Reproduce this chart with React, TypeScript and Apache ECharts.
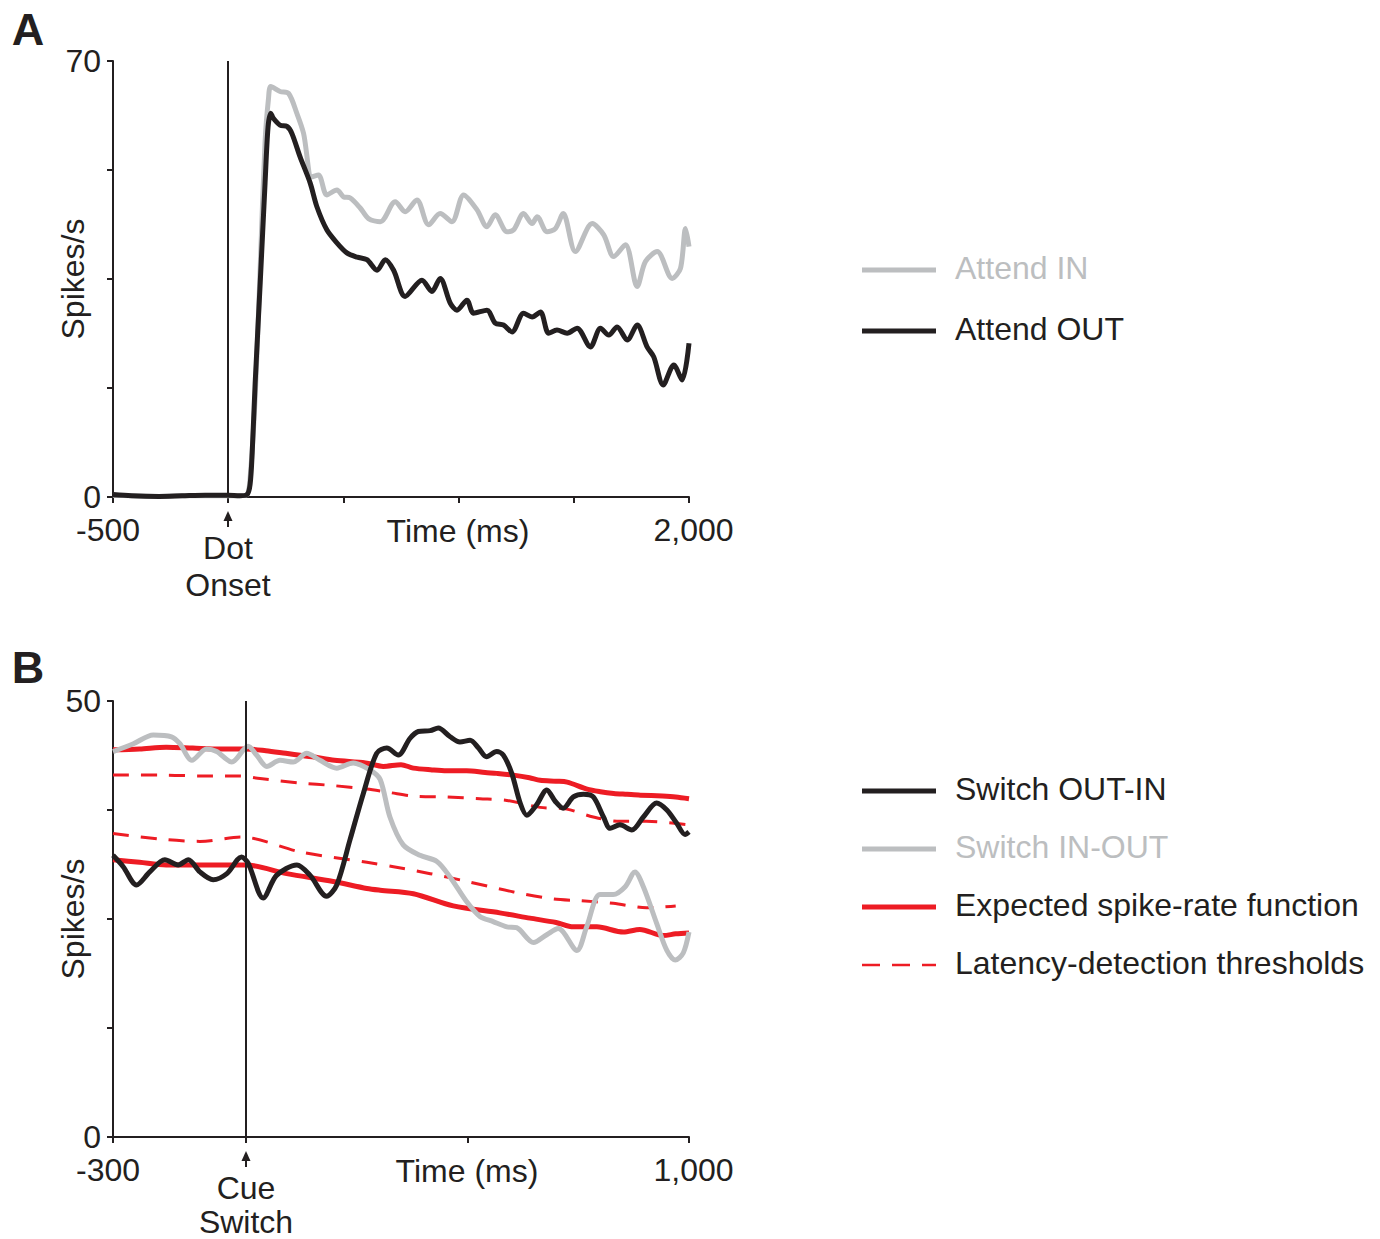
import React, { useEffect, useRef } from 'react';
import * as echarts from 'echarts';

const FONT = '"Liberation Sans", Arial, Helvetica, sans-serif';
const INK = '#231f20';
const GRAY = '#bcbec0';
const RED = '#ed1c24';
const FS = 32;
const LH = 30;

// ---------- Panel A: attention to dot onset ----------
const attendInTime = [-500, -420, -300, -200, -100, 0, 50, 82, 95, 117, 139, 160, 175, 185, 225, 262, 298, 327, 363, 392, 428, 472, 500, 530, 573, 609, 660, 725, 768, 819, 870, 920, 971, 1022, 1080, 1123, 1159, 1210, 1239, 1282, 1319, 1341, 1384, 1420, 1454, 1507, 1580, 1630, 1673, 1724, 1775, 1811, 1862, 1927, 1963, 1985, 2000];
const attendInRate = [0.3, 0.2, 0.1, 0.2, 0.2, 0.2, 0.2, 0.4, 3, 16, 37, 57, 64, 65.9, 65.1, 64.8, 61.6, 58.4, 51.4, 51.7, 48.5, 49.3, 48.2, 48.0, 46.4, 44.7, 44.2, 47.4, 45.8, 47.7, 43.7, 45.5, 44.2, 48.5, 46.1, 43.4, 45.3, 42.6, 42.9, 45.5, 43.9, 45.0, 42.6, 43.1, 45.5, 39.4, 43.9, 42.1, 38.6, 40.5, 33.8, 37.8, 39.4, 35.1, 36.7, 43.1, 40.2];

const attendOutTime = [-500, -420, -300, -200, -100, 0, 50, 82, 95, 104, 117, 139, 160, 173, 185, 196, 225, 255, 276, 312, 356, 385, 428, 472, 515, 560, 602, 646, 682, 718, 768, 841, 884, 920, 964, 993, 1036, 1065, 1123, 1159, 1195, 1232, 1282, 1319, 1355, 1391, 1427, 1471, 1514, 1572, 1616, 1652, 1688, 1732, 1775, 1818, 1847, 1888, 1934, 1970, 2000];
const attendOutRate = [0.4, 0.2, 0.1, 0.2, 0.3, 0.3, 0.2, 0.4, 2, 7, 18.3, 34.4, 50.4, 59.4, 61.6, 60.8, 59.7, 59.5, 58.4, 54.6, 50.4, 46.6, 42.9, 40.8, 39.2, 38.5, 38.1, 36.4, 38.1, 36.4, 32.2, 34.8, 33.0, 35.1, 31.1, 30.0, 31.6, 29.5, 30.0, 27.9, 27.6, 26.5, 29.5, 28.9, 29.7, 26.3, 26.8, 26.3, 27.1, 24.1, 27.1, 26.0, 27.3, 25.2, 27.6, 24.1, 22.5, 18.0, 21.2, 18.8, 24.7];

const panelAXLabels = [-500, 2000];
const panelAXTicks = [-500, 0, 500, 1000, 1500, 2000];
const panelAYLabels = [0, 70];

// ---------- Panel B: cue switch ----------
const switchOutInTime = [-300, -277, -247, -217, -183, -153, -130, -104, -74, -43, -10, 5, 39, 69, 115, 145, 182, 205, 235, 265, 295, 318, 344, 370, 389, 416, 434, 461, 483, 506, 525, 543, 566, 581, 600, 619, 634, 656, 679, 698, 716, 739, 762, 784, 807, 822, 844, 871, 897, 927, 950, 972, 991, 1000];
const switchOutInRate = [32.3, 31.0, 28.9, 30.4, 31.8, 31.2, 31.8, 30.4, 29.5, 30.2, 32.1, 31.4, 27.4, 30.0, 31.2, 30.0, 27.6, 28.9, 34.1, 39.4, 44.0, 44.6, 43.8, 45.7, 46.5, 46.6, 46.9, 45.9, 45.3, 45.5, 44.6, 43.6, 44.2, 43.8, 41.7, 38.3, 36.9, 38.1, 39.8, 38.5, 37.7, 39.0, 39.3, 39.0, 36.7, 35.4, 35.8, 35.2, 36.7, 38.3, 37.5, 36.0, 34.7, 35.0];

const switchInOutTime = [-300, -254, -209, -168, -149, -122, -89, -66, -32, 5, 24, 47, 77, 107, 137, 167, 205, 242, 280, 303, 325, 355, 393, 431, 461, 498, 528, 558, 589, 611, 649, 679, 705, 747, 769, 799, 829, 856, 878, 897, 927, 950, 969, 987, 1000];
const switchInOutRate = [44.2, 45.1, 46.1, 45.9, 45.1, 43.2, 44.5, 44.2, 43.0, 44.8, 43.8, 42.5, 43.2, 43.0, 44.0, 43.2, 42.3, 42.9, 42.1, 41.0, 36.7, 33.5, 32.3, 31.6, 29.8, 27.0, 25.3, 24.7, 24.1, 24.0, 22.3, 23.2, 23.9, 21.4, 24.1, 27.8, 27.8, 28.7, 30.4, 28.7, 24.5, 21.4, 20.3, 21.1, 23.5];

const expectedInTime = [-300, -240, -180, -120, -60, 0, 45, 90, 150, 200, 270, 310, 350, 378, 420, 453, 498, 540, 566, 604, 640, 664, 700, 725, 770, 800, 830, 860, 890, 940, 970, 1000];
const expectedInRate = [44.4, 44.5, 44.7, 44.6, 44.5, 44.5, 44.3, 44.0, 43.6, 43.2, 42.9, 42.5, 42.7, 42.3, 42.1, 42.0, 42.0, 41.8, 41.7, 41.5, 41.2, 40.9, 40.8, 40.7, 39.9, 39.6, 39.4, 39.3, 39.2, 39.1, 39.0, 38.8];

const thresholdInTime = [-300, -180, -100, -13, 32, 122, 197, 273, 325, 378, 453, 528, 589, 664, 724, 784, 844, 904, 1000];
const thresholdInRate = [41.5, 41.5, 41.4, 41.4, 41.1, 40.6, 40.3, 39.9, 39.5, 39.1, 39.0, 38.8, 38.6, 37.8, 37.6, 36.7, 36.2, 36.2, 35.8];

const expectedOutTime = [-300, -240, -180, -100, 0, 92, 197, 273, 303, 378, 468, 573, 641, 700, 739, 792, 852, 889, 942, 970, 1000];
const expectedOutRate = [31.8, 31.5, 31.2, 31.2, 31.2, 30.2, 29.3, 28.5, 28.3, 27.9, 26.5, 25.7, 25.1, 24.6, 24.1, 24.1, 23.5, 23.8, 23.1, 23.3, 23.4];

const thresholdOutTime = [-300, -180, -104, -10, 122, 273, 333, 416, 491, 604, 694, 754, 829, 904, 970];
const thresholdOutRate = [34.8, 34.1, 33.9, 34.4, 32.7, 31.5, 31.0, 30.2, 29.4, 28.1, 27.3, 27.1, 26.8, 26.3, 26.5];

const panelBXLabels = [-300, 1000];
const panelBXTicks = [-300, 0, 500, 1000];
const panelBYLabels = [0, 50];

const legendA = [
  { name: 'Attend IN', color: GRAY, text: GRAY, dashed: false },
  { name: 'Attend OUT', color: INK, text: INK, dashed: false },
];
const legendB = [
  { name: 'Switch OUT-IN', color: INK, text: INK, dashed: false },
  { name: 'Switch IN-OUT', color: GRAY, text: GRAY, dashed: false },
  { name: 'Expected spike-rate function', color: RED, text: INK, dashed: false },
  { name: 'Latency-detection thresholds', color: RED, text: INK, dashed: true },
];

const zip = (t: number[], v: number[]) => t.map((x, i) => [x, v[i]]);
const fmt = (v: number) => (Math.abs(v) >= 1000 ? v.toLocaleString('en-US') : String(v));

function xAxisCfg(gridIndex: number, min: number, max: number, ticks: number[], labels: number[], namePad: number) {
  return {
    type: 'value',
    gridIndex,
    min,
    max,
    name: 'Time (ms)',
    nameLocation: 'middle',
    nameGap: 19,
    nameMoveOverlap: false,
    nameTextStyle: { color: INK, fontSize: FS, fontFamily: FONT, lineHeight: LH, padding: [0, 0, 0, namePad] },
    axisLine: { show: true, onZero: false, lineStyle: { color: INK, width: 2 } },
    axisTick: { show: true, length: 6, customValues: ticks, lineStyle: { color: INK, width: 2 } },
    axisLabel: {
      show: true,
      customValues: labels,
      color: INK,
      fontSize: FS,
      fontFamily: FONT,
      lineHeight: LH,
      margin: 18,
      formatter: (v: number) => (v === min ? `{l|${fmt(v)}}` : `{r|${fmt(v)}}`),
      rich: {
        l: { fontSize: FS, fontFamily: FONT, color: INK, lineHeight: LH, padding: [0, 10, 0, 0] },
        r: { fontSize: FS, fontFamily: FONT, color: INK, lineHeight: LH, padding: [0, 0, 0, 9] },
      },
    },
    splitLine: { show: false },
  };
}

function yAxisCfg(gridIndex: number, max: number, interval: number, labels: number[]) {
  return {
    type: 'value',
    gridIndex,
    min: 0,
    max,
    interval,
    name: 'Spikes/s',
    nameLocation: 'middle',
    nameRotate: 90,
    nameGap: 24,
    nameMoveOverlap: false,
    nameTextStyle: { color: INK, fontSize: FS, fontFamily: FONT },
    axisLine: { show: true, onZero: false, lineStyle: { color: INK, width: 2 } },
    axisTick: { show: true, length: 6, lineStyle: { color: INK, width: 2 } },
    axisLabel: { show: true, customValues: labels, color: INK, fontSize: FS, fontFamily: FONT, lineHeight: LH, margin: 12 },
    splitLine: { show: false },
  };
}

function lineSeries(name: string, data: number[][], color: string, width: number, axis: number, opts: any = {}) {
  return {
    type: 'line',
    name,
    data,
    xAxisIndex: axis,
    yAxisIndex: axis,
    showSymbol: false,
    symbol: 'none',
    smooth: 0.3,
    lineStyle: { color, width, cap: 'butt', join: 'round', type: opts.dashed ? [16, 12] : 'solid' },
    z: opts.z ?? 3,
    markLine: opts.markLine,
    silent: true,
  };
}

function zeroLine() {
  return {
    silent: true,
    symbol: ['none', 'none'],
    label: { show: false },
    lineStyle: { color: INK, width: 2, type: 'solid' },
    data: [{ xAxis: 0 }],
  };
}

function legendGraphics(items: { name: string; color: string; text: string; dashed: boolean }[], ys: number[]) {
  const out: any[] = [];
  items.forEach((it, i) => {
    out.push({
      type: 'line',
      shape: { x1: 862, y1: ys[i] + 2, x2: 936, y2: ys[i] + 2 },
      style: { stroke: it.color, lineWidth: it.dashed ? 2.5 : 5, lineDash: it.dashed ? [18, 12] : null },
    });
    out.push({
      type: 'text',
      x: 955,
      y: ys[i],
      style: { text: it.name, fill: it.text, font: `${FS}px ${FONT}`, textAlign: 'left', textVerticalAlign: 'middle' },
    });
  });
  return out;
}

function arrow(x: number, yTip: number) {
  return [
    { type: 'polygon', shape: { points: [[x, yTip], [x - 4.5, yTip + 10], [x + 4.5, yTip + 10]] }, style: { fill: INK } },
    { type: 'line', shape: { x1: x, y1: yTip + 9, x2: x, y2: yTip + 16 }, style: { stroke: INK, lineWidth: 2 } },
  ];
}

function txt(text: string, x: number, y: number, extra: any = {}) {
  return {
    type: 'text',
    x,
    y,
    style: { text, fill: INK, font: `${FS}px ${FONT}`, lineHeight: LH, textAlign: 'center', textVerticalAlign: 'middle', ...extra },
  };
}

export default function App() {
  const ref = useRef<HTMLDivElement>(null);
  useEffect(() => {
    if (!ref.current) return;
    const chart = echarts.init(ref.current, null, { renderer: 'svg' });
    chart.setOption({
      animation: false,
      backgroundColor: '#ffffff',
      grid: [
        { left: 113, top: 61, width: 576, height: 436 },
        { left: 113, top: 701, width: 576, height: 436 },
      ],
      xAxis: [
        xAxisCfg(0, -500, 2000, panelAXTicks, panelAXLabels, 114),
        xAxisCfg(1, -300, 1000, panelBXTicks, panelBXLabels, 132),
      ],
      yAxis: [yAxisCfg(0, 70, 17.5, panelAYLabels), yAxisCfg(1, 50, 12.5, panelBYLabels)],
      series: [
        lineSeries('Attend IN', zip(attendInTime, attendInRate), GRAY, 5, 0, { z: 3, markLine: zeroLine() }),
        lineSeries('Attend OUT', zip(attendOutTime, attendOutRate), INK, 5, 0, { z: 4 }),
        lineSeries('Expected IN', zip(expectedInTime, expectedInRate), RED, 5, 1, { z: 2, markLine: zeroLine() }),
        lineSeries('Expected OUT', zip(expectedOutTime, expectedOutRate), RED, 5, 1, { z: 2 }),
        lineSeries('Threshold IN', zip(thresholdInTime, thresholdInRate), RED, 3, 1, { z: 2, dashed: true }),
        lineSeries('Threshold OUT', zip(thresholdOutTime, thresholdOutRate), RED, 3, 1, { z: 2, dashed: true }),
        lineSeries('Switch IN-OUT', zip(switchInOutTime, switchInOutRate), GRAY, 5, 1, { z: 3 }),
        lineSeries('Switch OUT-IN', zip(switchOutInTime, switchOutInRate), INK, 5, 1, { z: 4 }),
      ],
      graphic: [
        txt('A', 28, 29, { font: `bold 45px ${FONT}`, lineHeight: 46 }),
        txt('B', 28, 667, { font: `bold 45px ${FONT}`, lineHeight: 46 }),
        ...arrow(228, 511),
        txt('Dot', 228, 548),
        txt('Onset', 228, 585),
        ...arrow(246, 1151),
        txt('Cue', 246, 1188),
        txt('Switch', 246, 1222),
        ...legendGraphics(legendA, [268, 329]),
        ...legendGraphics(legendB, [789, 847, 905, 963]),
      ],
    });
    return () => chart.dispose();
  }, []);
  return (
    <div
      ref={ref}
      style={{ position: 'absolute', left: 0, top: 0, width: 1380, height: 1239, background: '#ffffff' }}
    />
  );
}
